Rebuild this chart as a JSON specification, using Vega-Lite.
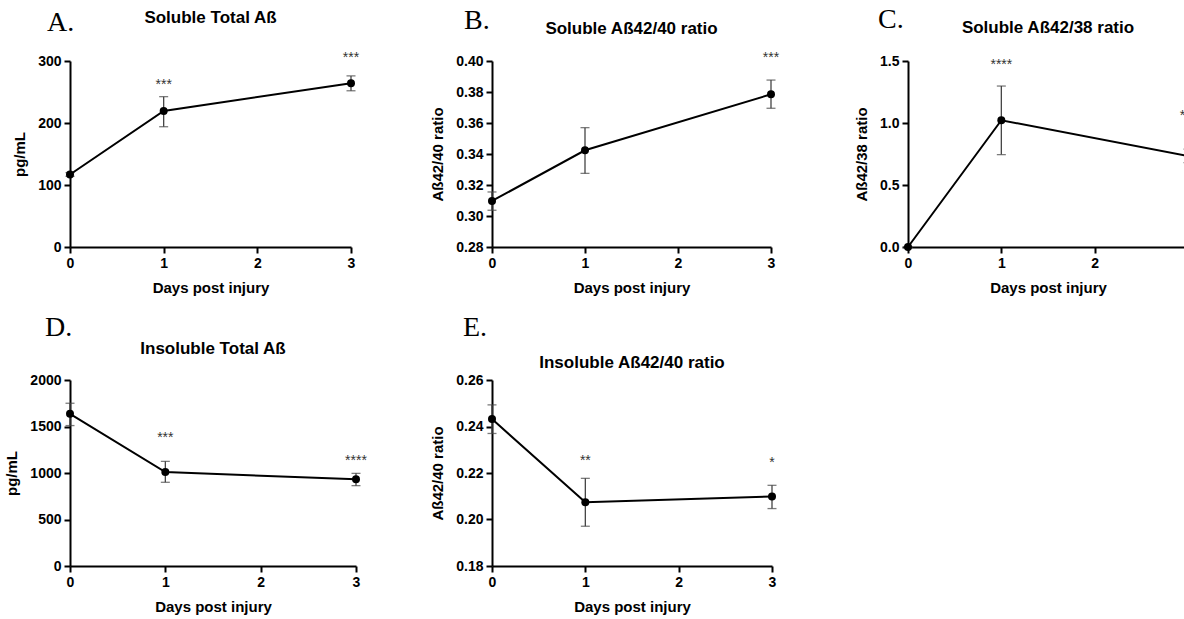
{
  "$schema": "https://vega.github.io/schema/vega-lite/v6.json",
  "autosize": {"type": "none"},
  "padding": {"left": 70, "top": 61, "right": 1114, "bottom": 558},
  "background": "white",
  "columns": 3,
  "align": "none",
  "bounds": "flush",
  "spacing": {"row": 133, "column": 136},
  "concat": [
    {
      "width": 281, "height": 186,
      "data": {"values": [
        {"day": 0, "mean": 117, "lo": 114, "hi": 120, "stars": "", "star_y": null},
        {"day": 1, "mean": 219.5, "lo": 194, "hi": 242.5, "stars": "***", "star_y": 255},
        {"day": 3, "mean": 264, "lo": 252, "hi": 276, "stars": "***", "star_y": 298}
      ]},
      "layer": [
        {"mark": {"type": "rule", "color": "#444", "strokeWidth": 1.3},
         "encoding": {
           "x": {"field": "day", "type": "quantitative", "scale": {"domain": [0, 3], "nice": false, "zero": false}, "axis": {"title": "Days post injury", "values": [0, 1, 2, 3], "tickCount": 10, "format": "d", "labelOverlap": false}},
           "y": {"field": "lo", "type": "quantitative", "scale": {"domain": [0, 300], "nice": false}, "axis": {"title": "pg/mL", "values": [0, 100, 200, 300], "tickCount": 10, "format": "d", "labelOverlap": false}},
           "y2": {"field": "hi"}}},
        {"mark": {"type": "tick", "orient": "horizontal", "color": "#444", "thickness": 1.3, "size": 9},
         "encoding": {"x": {"field": "day", "type": "quantitative"}, "y": {"field": "lo", "type": "quantitative"}}},
        {"mark": {"type": "tick", "orient": "horizontal", "color": "#444", "thickness": 1.3, "size": 9},
         "encoding": {"x": {"field": "day", "type": "quantitative"}, "y": {"field": "hi", "type": "quantitative"}}},
        {"mark": {"type": "line", "color": "#000", "strokeWidth": 2},
         "encoding": {"x": {"field": "day", "type": "quantitative"}, "y": {"field": "mean", "type": "quantitative"}}},
        {"mark": {"type": "point", "filled": true, "color": "#000", "size": 64, "opacity": 1},
         "encoding": {"x": {"field": "day", "type": "quantitative"}, "y": {"field": "mean", "type": "quantitative"}}},
        {"mark": {"type": "text", "font": "Liberation Sans", "fontSize": 14, "color": "#333", "baseline": "alphabetic"},
         "encoding": {"x": {"field": "day", "type": "quantitative"}, "y": {"field": "star_y", "type": "quantitative"}, "text": {"field": "stars"}}},
        {"data": {"values": [{"letter": "A.", "name": "Soluble Total Aß"}]},
         "mark": {"type": "text", "font": "Liberation Serif", "fontSize": 28, "align": "left", "baseline": "alphabetic", "color": "#000"},
         "encoding": {"x": {"datum": -0.246, "type": "quantitative"}, "y": {"datum": 348, "type": "quantitative"}, "text": {"field": "letter"}}},
        {"data": {"values": [{"letter": "A.", "name": "Soluble Total Aß"}]},
         "mark": {"type": "text", "font": "Liberation Sans", "fontSize": 17, "fontWeight": "bold", "align": "center", "baseline": "middle", "color": "#000"},
         "encoding": {"x": {"datum": 1.5, "type": "quantitative"}, "y": {"datum": 369, "type": "quantitative"}, "text": {"field": "name"}}}
      ]
    },
    {
      "width": 279, "height": 186,
      "data": {"values": [
        {"day": 0, "mean": 0.3097, "lo": 0.3037, "hi": 0.3155, "stars": "", "star_y": null},
        {"day": 1, "mean": 0.3424, "lo": 0.3275, "hi": 0.357, "stars": "", "star_y": null},
        {"day": 3, "mean": 0.3785, "lo": 0.3695, "hi": 0.3877, "stars": "***", "star_y": 0.3994}
      ]},
      "layer": [
        {"mark": {"type": "rule", "color": "#444", "strokeWidth": 1.3},
         "encoding": {
           "x": {"field": "day", "type": "quantitative", "scale": {"domain": [0, 3], "nice": false, "zero": false}, "axis": {"title": "Days post injury", "values": [0, 1, 2, 3], "tickCount": 10, "format": "d", "labelOverlap": false}},
           "y": {"field": "lo", "type": "quantitative", "scale": {"domain": [0.28, 0.40], "nice": false, "zero": false}, "axis": {"title": "Aß42/40 ratio", "values": [0.28, 0.30, 0.32, 0.34, 0.36, 0.38, 0.40], "tickCount": 10, "format": ".2f", "labelOverlap": false}},
           "y2": {"field": "hi"}}},
        {"mark": {"type": "tick", "orient": "horizontal", "color": "#444", "thickness": 1.3, "size": 9},
         "encoding": {"x": {"field": "day", "type": "quantitative"}, "y": {"field": "lo", "type": "quantitative"}}},
        {"mark": {"type": "tick", "orient": "horizontal", "color": "#444", "thickness": 1.3, "size": 9},
         "encoding": {"x": {"field": "day", "type": "quantitative"}, "y": {"field": "hi", "type": "quantitative"}}},
        {"mark": {"type": "line", "color": "#000", "strokeWidth": 2},
         "encoding": {"x": {"field": "day", "type": "quantitative"}, "y": {"field": "mean", "type": "quantitative"}}},
        {"mark": {"type": "point", "filled": true, "color": "#000", "size": 64, "opacity": 1},
         "encoding": {"x": {"field": "day", "type": "quantitative"}, "y": {"field": "mean", "type": "quantitative"}}},
        {"mark": {"type": "text", "font": "Liberation Sans", "fontSize": 14, "color": "#333", "baseline": "alphabetic"},
         "encoding": {"x": {"field": "day", "type": "quantitative"}, "y": {"field": "star_y", "type": "quantitative"}, "text": {"field": "stars"}}},
        {"data": {"values": [{"letter": "B.", "name": "Soluble Aß42/40 ratio"}]},
         "mark": {"type": "text", "font": "Liberation Serif", "fontSize": 28, "align": "left", "baseline": "alphabetic", "color": "#000"},
         "encoding": {"x": {"datum": -0.301, "type": "quantitative"}, "y": {"datum": 0.4206, "type": "quantitative"}, "text": {"field": "letter"}}},
        {"data": {"values": [{"letter": "B.", "name": "Soluble Aß42/40 ratio"}]},
         "mark": {"type": "text", "font": "Liberation Sans", "fontSize": 17, "fontWeight": "bold", "align": "center", "baseline": "middle", "color": "#000"},
         "encoding": {"x": {"datum": 1.5, "type": "quantitative"}, "y": {"datum": 0.4206, "type": "quantitative"}, "text": {"field": "name"}}}
      ]
    },
    {
      "width": 280, "height": 186,
      "data": {"values": [
        {"day": 0, "mean": 0, "lo": 0, "hi": 0, "stars": "", "star_y": null},
        {"day": 1, "mean": 1.022, "lo": 0.745, "hi": 1.298, "stars": "****", "star_y": 1.435},
        {"day": 3, "mean": 0.734, "lo": 0.681, "hi": 0.79, "stars": "***", "star_y": 1.024}
      ]},
      "layer": [
        {"mark": {"type": "rule", "color": "#444", "strokeWidth": 1.3},
         "encoding": {
           "x": {"field": "day", "type": "quantitative", "scale": {"domain": [0, 3], "nice": false, "zero": false}, "axis": {"title": "Days post injury", "values": [0, 1, 2, 3], "tickCount": 10, "format": "d", "labelOverlap": false}},
           "y": {"field": "lo", "type": "quantitative", "scale": {"domain": [0, 1.5], "nice": false}, "axis": {"title": "Aß42/38 ratio", "values": [0, 0.5, 1, 1.5], "tickCount": 10, "format": ".1f", "labelOverlap": false}},
           "y2": {"field": "hi"}}},
        {"mark": {"type": "tick", "orient": "horizontal", "color": "#444", "thickness": 1.3, "size": 9},
         "encoding": {"x": {"field": "day", "type": "quantitative"}, "y": {"field": "lo", "type": "quantitative"}}},
        {"mark": {"type": "tick", "orient": "horizontal", "color": "#444", "thickness": 1.3, "size": 9},
         "encoding": {"x": {"field": "day", "type": "quantitative"}, "y": {"field": "hi", "type": "quantitative"}}},
        {"mark": {"type": "line", "color": "#000", "strokeWidth": 2},
         "encoding": {"x": {"field": "day", "type": "quantitative"}, "y": {"field": "mean", "type": "quantitative"}}},
        {"mark": {"type": "point", "filled": true, "color": "#000", "size": 64, "opacity": 1},
         "encoding": {"x": {"field": "day", "type": "quantitative"}, "y": {"field": "mean", "type": "quantitative"}}},
        {"mark": {"type": "text", "font": "Liberation Sans", "fontSize": 14, "color": "#333", "baseline": "alphabetic"},
         "encoding": {"x": {"field": "day", "type": "quantitative"}, "y": {"field": "star_y", "type": "quantitative"}, "text": {"field": "stars"}}},
        {"data": {"values": [{"letter": "C.", "name": "Soluble Aß42/38 ratio"}]},
         "mark": {"type": "text", "font": "Liberation Serif", "fontSize": 28, "align": "left", "baseline": "alphabetic", "color": "#000"},
         "encoding": {"x": {"datum": -0.321, "type": "quantitative"}, "y": {"datum": 1.766, "type": "quantitative"}, "text": {"field": "letter"}}},
        {"data": {"values": [{"letter": "C.", "name": "Soluble Aß42/38 ratio"}]},
         "mark": {"type": "text", "font": "Liberation Sans", "fontSize": 17, "fontWeight": "bold", "align": "center", "baseline": "middle", "color": "#000"},
         "encoding": {"x": {"datum": 1.5, "type": "quantitative"}, "y": {"datum": 1.766, "type": "quantitative"}, "text": {"field": "name"}}}
      ]
    },
    {
      "width": 286, "height": 186,
      "data": {"values": [
        {"day": 0, "mean": 1636, "lo": 1510, "hi": 1750, "stars": "", "star_y": null},
        {"day": 1, "mean": 1010, "lo": 900, "hi": 1125, "stars": "***", "star_y": 1337},
        {"day": 3, "mean": 932, "lo": 864, "hi": 996, "stars": "****", "star_y": 1091}
      ]},
      "layer": [
        {"mark": {"type": "rule", "color": "#444", "strokeWidth": 1.3},
         "encoding": {
           "x": {"field": "day", "type": "quantitative", "scale": {"domain": [0, 3], "nice": false, "zero": false}, "axis": {"title": "Days post injury", "values": [0, 1, 2, 3], "tickCount": 10, "format": "d", "labelOverlap": false}},
           "y": {"field": "lo", "type": "quantitative", "scale": {"domain": [0, 2000], "nice": false}, "axis": {"title": "pg/mL", "values": [0, 500, 1000, 1500, 2000], "tickCount": 10, "format": "d", "labelOverlap": false}},
           "y2": {"field": "hi"}}},
        {"mark": {"type": "tick", "orient": "horizontal", "color": "#444", "thickness": 1.3, "size": 9},
         "encoding": {"x": {"field": "day", "type": "quantitative"}, "y": {"field": "lo", "type": "quantitative"}}},
        {"mark": {"type": "tick", "orient": "horizontal", "color": "#444", "thickness": 1.3, "size": 9},
         "encoding": {"x": {"field": "day", "type": "quantitative"}, "y": {"field": "hi", "type": "quantitative"}}},
        {"mark": {"type": "line", "color": "#000", "strokeWidth": 2},
         "encoding": {"x": {"field": "day", "type": "quantitative"}, "y": {"field": "mean", "type": "quantitative"}}},
        {"mark": {"type": "point", "filled": true, "color": "#000", "size": 64, "opacity": 1},
         "encoding": {"x": {"field": "day", "type": "quantitative"}, "y": {"field": "mean", "type": "quantitative"}}},
        {"mark": {"type": "text", "font": "Liberation Sans", "fontSize": 14, "color": "#333", "baseline": "alphabetic"},
         "encoding": {"x": {"field": "day", "type": "quantitative"}, "y": {"field": "star_y", "type": "quantitative"}, "text": {"field": "stars"}}},
        {"data": {"values": [{"letter": "D.", "name": "Insoluble Total Aß"}]},
         "mark": {"type": "text", "font": "Liberation Serif", "fontSize": 28, "align": "left", "baseline": "alphabetic", "color": "#000"},
         "encoding": {"x": {"datum": -0.262, "type": "quantitative"}, "y": {"datum": 2473, "type": "quantitative"}, "text": {"field": "letter"}}},
        {"data": {"values": [{"letter": "D.", "name": "Insoluble Total Aß"}]},
         "mark": {"type": "text", "font": "Liberation Sans", "fontSize": 17, "fontWeight": "bold", "align": "center", "baseline": "middle", "color": "#000"},
         "encoding": {"x": {"datum": 1.5, "type": "quantitative"}, "y": {"datum": 2333, "type": "quantitative"}, "text": {"field": "name"}}}
      ]
    },
    {
      "width": 280, "height": 186,
      "data": {"values": [
        {"day": 0, "mean": 0.2432, "lo": 0.237, "hi": 0.2493, "stars": "", "star_y": null},
        {"day": 1, "mean": 0.2074, "lo": 0.1971, "hi": 0.2177, "stars": "**", "star_y": 0.2236},
        {"day": 3, "mean": 0.2099, "lo": 0.2047, "hi": 0.2147, "stars": "*", "star_y": 0.2224}
      ]},
      "layer": [
        {"mark": {"type": "rule", "color": "#444", "strokeWidth": 1.3},
         "encoding": {
           "x": {"field": "day", "type": "quantitative", "scale": {"domain": [0, 3], "nice": false, "zero": false}, "axis": {"title": "Days post injury", "values": [0, 1, 2, 3], "tickCount": 10, "format": "d", "labelOverlap": false}},
           "y": {"field": "lo", "type": "quantitative", "scale": {"domain": [0.18, 0.26], "nice": false, "zero": false}, "axis": {"title": "Aß42/40 ratio", "values": [0.18, 0.20, 0.22, 0.24, 0.26], "tickCount": 10, "format": ".2f", "labelOverlap": false}},
           "y2": {"field": "hi"}}},
        {"mark": {"type": "tick", "orient": "horizontal", "color": "#444", "thickness": 1.3, "size": 9},
         "encoding": {"x": {"field": "day", "type": "quantitative"}, "y": {"field": "lo", "type": "quantitative"}}},
        {"mark": {"type": "tick", "orient": "horizontal", "color": "#444", "thickness": 1.3, "size": 9},
         "encoding": {"x": {"field": "day", "type": "quantitative"}, "y": {"field": "hi", "type": "quantitative"}}},
        {"mark": {"type": "line", "color": "#000", "strokeWidth": 2},
         "encoding": {"x": {"field": "day", "type": "quantitative"}, "y": {"field": "mean", "type": "quantitative"}}},
        {"mark": {"type": "point", "filled": true, "color": "#000", "size": 64, "opacity": 1},
         "encoding": {"x": {"field": "day", "type": "quantitative"}, "y": {"field": "mean", "type": "quantitative"}}},
        {"mark": {"type": "text", "font": "Liberation Sans", "fontSize": 14, "color": "#333", "baseline": "alphabetic"},
         "encoding": {"x": {"field": "day", "type": "quantitative"}, "y": {"field": "star_y", "type": "quantitative"}, "text": {"field": "stars"}}},
        {"data": {"values": [{"letter": "E.", "name": "Insoluble Aß42/40 ratio"}]},
         "mark": {"type": "text", "font": "Liberation Serif", "fontSize": 28, "align": "left", "baseline": "alphabetic", "color": "#000"},
         "encoding": {"x": {"datum": -0.311, "type": "quantitative"}, "y": {"datum": 0.2789, "type": "quantitative"}, "text": {"field": "letter"}}},
        {"data": {"values": [{"letter": "E.", "name": "Insoluble Aß42/40 ratio"}]},
         "mark": {"type": "text", "font": "Liberation Sans", "fontSize": 17, "fontWeight": "bold", "align": "center", "baseline": "middle", "color": "#000"},
         "encoding": {"x": {"datum": 1.5, "type": "quantitative"}, "y": {"datum": 0.2673, "type": "quantitative"}, "text": {"field": "name"}}}
      ]
    }
  ],
  "config": {
    "view": {"stroke": null},
    "axis": {
      "grid": false,
      "domainColor": "#000", "domainWidth": 2,
      "tickColor": "#000", "tickWidth": 2, "tickSize": 6,
      "labelFont": "Liberation Sans", "labelFontSize": 14, "labelFontWeight": "bold", "labelColor": "#000",
      "labelPadding": 3, "labelFlush": false, "labelOverlap": false,
      "titleFont": "Liberation Sans", "titleFontSize": 15, "titleFontWeight": "bold", "titleColor": "#000",
      "titlePadding": 10
    }
  }
}
